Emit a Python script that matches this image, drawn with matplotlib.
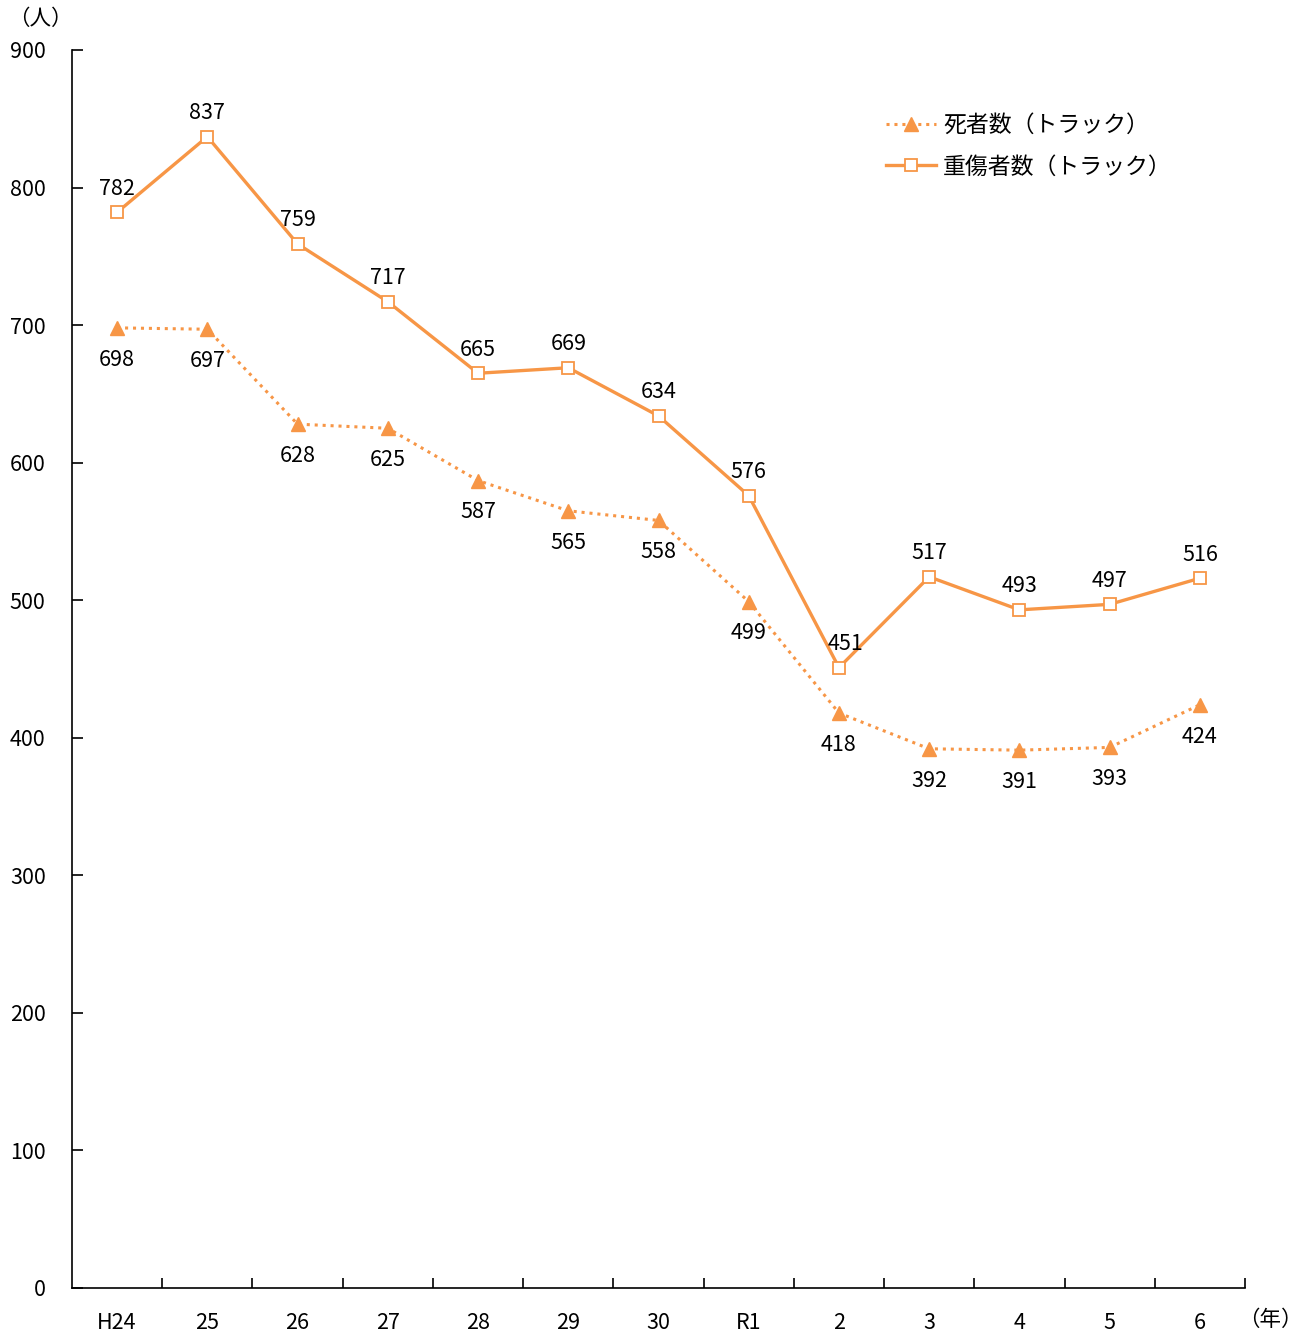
import matplotlib
matplotlib.use("Agg")
import matplotlib.pyplot as plt

plt.rcParams['font.family'] = ['Noto Sans CJK JP', 'DejaVu Sans']

categories = ["H24", "25", "26", "27", "28", "29", "30", "R1", "2", "3", "4", "5", "6"]
deaths = [698, 697, 628, 625, 587, 565, 558, 499, 418, 392, 391, 393, 424]
serious = [782, 837, 759, 717, 665, 669, 634, 576, 451, 517, 493, 497, 516]

color = "#F79646"
fig = plt.figure(figsize=(13.02, 13.33), dpi=100)
ax = fig.add_axes([72/1302, 45/1333, (1245-72)/1302, (1288-50)/1333])

x = list(range(len(categories)))
ax.plot(x, deaths, linestyle=(0, (1, 1.6)), color=color, lw=2.2, marker="^",
        markersize=10, markerfacecolor=color, markeredgecolor=color,
        label="死者数（トラック）")
ax.plot(x, serious, linestyle="-", color=color, lw=2.4, marker="s",
        markersize=9, markerfacecolor="white", markeredgecolor=color, markeredgewidth=1.3,
        label="重傷者数（トラック）")

fs = 15.5
for i, v in enumerate(serious):
    if categories[i] == "2":
        ax.annotate(str(v), (i, v), xytext=(5, 9), textcoords="offset points",
                    ha="center", va="bottom", fontsize=fs)
    else:
        ax.annotate(str(v), (i, v), xytext=(0, 9), textcoords="offset points",
                    ha="center", va="bottom", fontsize=fs)
for i, v in enumerate(deaths):
    ax.annotate(str(v), (i, v), xytext=(0, -15), textcoords="offset points",
                ha="center", va="top", fontsize=fs)

ax.set_xlim(-0.5, len(categories) - 0.5)
ax.set_ylim(0, 900)
ax.set_yticks(range(0, 901, 100))
ax.set_xticks(x)
ax.set_xticklabels(categories, fontsize=fs)
ax.set_xticks([i + 0.5 for i in range(len(categories))], minor=True)
ax.tick_params(axis="x", which="major", length=0, pad=17)
ax.tick_params(axis="x", which="minor", direction="in", length=7, width=1.2)
ax.tick_params(axis="y", direction="in", length=8, width=1.2, labelsize=fs, pad=19)
ax.spines["top"].set_visible(False)
ax.spines["right"].set_visible(False)
ax.spines["left"].set_linewidth(1.2)
ax.spines["bottom"].set_linewidth(1.2)

fig.text(40/1302, 1 - 19/1333, "（人）", fontsize=fs, ha="center", va="center")
fig.text(1270/1302, 1 - 1320/1333, "（年）", fontsize=fs, ha="center", va="center")

leg = ax.legend(loc="upper left", bbox_to_anchor=((886-72)/1173, (1288-114)/1238),
                frameon=False, fontsize=16.5, handlelength=2.2, handletextpad=0.3,
                labelspacing=0.8, borderaxespad=0, borderpad=0)

fig.savefig("out.png", dpi=100)
